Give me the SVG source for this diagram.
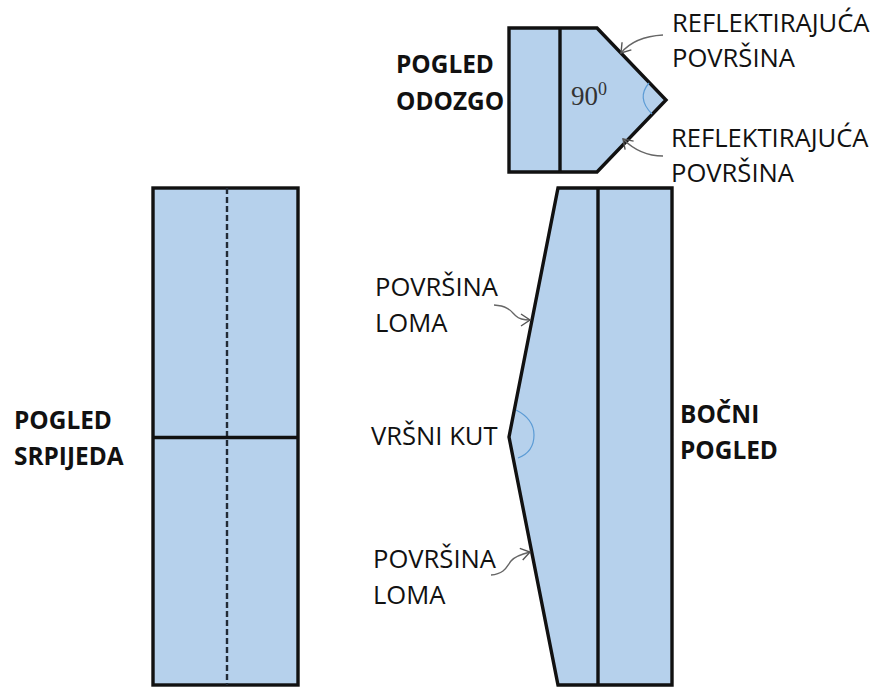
<svg xmlns="http://www.w3.org/2000/svg" width="878" height="688" viewBox="0 0 878 688">
<defs>
<marker id="arr" markerUnits="userSpaceOnUse" markerWidth="16" markerHeight="16" refX="13" refY="8" orient="auto"><path d="M4 2L13 8L4 14" fill="none" stroke="#555" stroke-width="1.4"/></marker>
</defs>
<style>
.s{fill:#b6d1ec;stroke:#111;stroke-width:3.4;stroke-linejoin:miter}
.l{stroke:#111;stroke-width:3.4;fill:none}
.a{fill:none;stroke:#5b9bd5;stroke-width:1.2}
.c{fill:none;stroke:#666;stroke-width:1.4;marker-end:url(#arr)}
text{font-family:"Open Sans","Noto Sans","Liberation Sans",sans-serif;font-size:25.6px;fill:#111}
.b{font-weight:700;font-size:24.4px}
</style>
<rect width="878" height="688" fill="#fff"/>
<g id="top-view">
<path class="s" d="M509 28H597L666 100L597 172H509Z"/>
<path class="l" d="M560 28V172"/>
<path class="a" d="M649 83Q636 98 652 114"/>
<text x="571" y="105" style="font-family:'Liberation Serif',serif;font-size:27px;fill:#333">90<tspan dy="-10" font-size="18">0</tspan></text>
</g>
<g id="front-view">
<rect class="s" x="153" y="188" width="145" height="497"/>
<path d="M227 188V685" fill="none" stroke="#222b36" stroke-width="2.400" stroke-dasharray="6 3"/>
<path class="l" d="M153 437.500H298"/>
</g>
<g id="side-view">
<path class="s" d="M558 188H672V685H558L509 437Z"/>
<path class="l" d="M598 188V685"/>
<path class="a" d="M516 410Q534 419 534 435Q534 452 518 458"/>
</g>
<g id="connectors">
<path class="c" d="M663 35C645 36 630 42 621 53"/>
<path class="c" d="M663 156C645 156 632 148 623 139"/>
<path class="c" d="M494 305C510 306 512 313 516 316C519 319 524 320 530 320"/>
<path class="c" d="M491 575C505 574 507 566 511 561C515 556 522 554 530 552"/>
</g>
<g id="labels">
<text x="672" y="32">REFLEKTIRAJUĆA</text>
<text x="672" y="67">POVRŠINA</text>
<text x="671" y="147">REFLEKTIRAJUĆA</text>
<text x="671" y="182">POVRŠINA</text>
<text x="375" y="296">POVRŠINA</text>
<text x="375" y="332">LOMA</text>
<text x="371" y="445">VRŠNI KUT</text>
<text x="373" y="568">POVRŠINA</text>
<text x="373" y="604">LOMA</text>
<text class="b" x="396" y="73">POGLED</text>
<text class="b" x="396" y="110">ODOZGO</text>
<text class="b" x="14" y="429">POGLED</text>
<text class="b" x="14" y="465">SRPIJEDA</text>
<text class="b" x="680" y="423">BOČNI</text>
<text class="b" x="680" y="459">POGLED</text>
</g>
</svg>
